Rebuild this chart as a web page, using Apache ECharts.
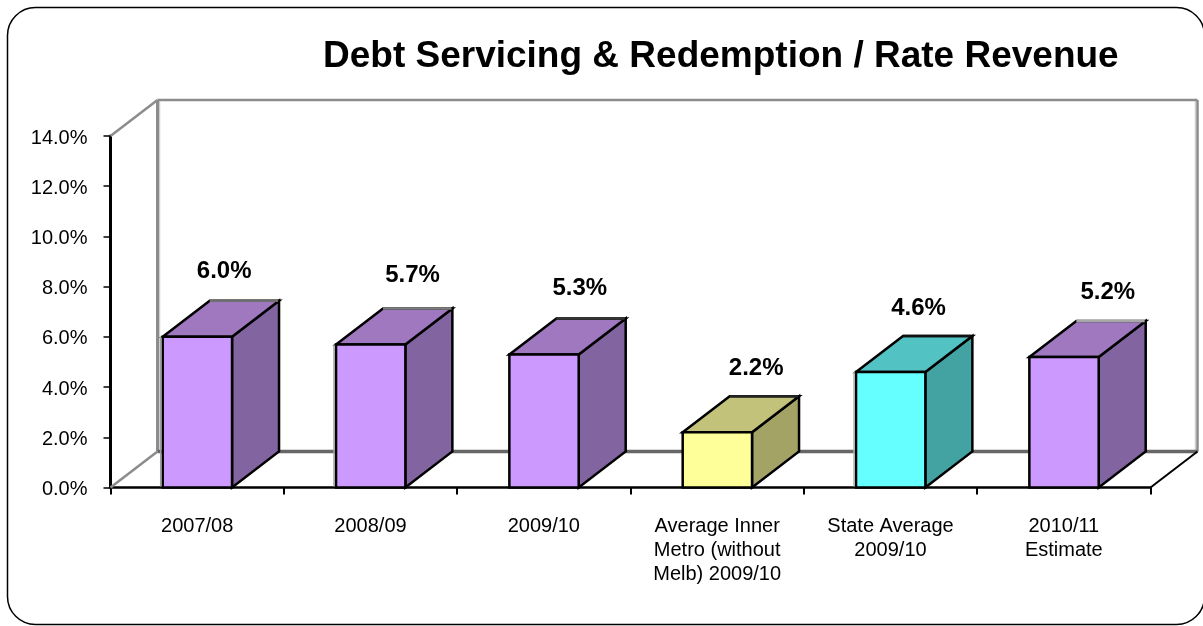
<!DOCTYPE html>
<html>
<head>
<meta charset="utf-8">
<title>Debt Servicing &amp; Redemption / Rate Revenue</title>
<script src="https://cdn.jsdelivr.net/npm/echarts@6/dist/echarts.min.js"></script>
<style>
  html, body { margin: 0; padding: 0; background: #fff; overflow: hidden; }
  #chart { width: 1203px; height: 626px; }
</style>
</head>
<body>
<div id="chart"></div>
<script>
const chartTitle = 'Debt Servicing & Redemption / Rate Revenue';
const categories = [
  '2007/08',
  '2008/09',
  '2009/10',
  'Average Inner\nMetro (without\nMelb) 2009/10',
  'State Average\n2009/10',
  '2010/11\nEstimate'
];
const debtRatio = [6.0, 5.7, 5.3, 2.2, 4.6, 5.2];

// Palette for each column: front, top and side faces.
const PURPLE = ['#CC99FF', '#9F78C0', '#8264A0'];
const YELLOW = ['#FFFF99', '#C2C27A', '#A3A366'];
const CYAN = ['#66FFFF', '#52C2C2', '#43A3A3'];
const faceColors = [PURPLE, PURPLE, PURPLE, YELLOW, CYAN, PURPLE];
// Colour of the far edge along the top of each column.
const backEdgeColors = ['#6f6f6f', '#7f7f7f', '#333333', '#222222', '#111111', '#a8a8a8'];
// Soft grey fringe down the left side of some columns; null means none.
const leftFringe = ['#a0a0a0', '#a0a0a0', null, null, '#b0b0b0', null];

// Oblique projection of the chart box, in pixels.
const DEPTH_X = 47;
const DEPTH_Y = -36;
const BAR_RATIO = 0.4;
// Where each value label sits relative to the top of its column.
const labelShift = [[27, -65], [42, -69], [36, -66], [39, -64], [28, -64], [44, -65]];

const FONT = '"Liberation Sans", Arial, sans-serif';

function renderBox(params, api) {
  const i = api.value(0);
  const top = api.coord([i, api.value(1)]);
  const base = api.coord([i, 0]);
  const w = api.size([1, 0])[0] * BAR_RATIO;
  const l = top[0] - w / 2 + 0.2;
  const r = l + w;
  const t = top[1];
  const b = base[1];
  const colors = faceColors[i];
  const edge = { stroke: '#000', lineWidth: 2.5, lineJoin: 'miter' };
  const face = (points, fill) => ({
    type: 'polygon',
    shape: { points },
    style: Object.assign({ fill }, edge)
  });
  const shift = labelShift[i];
  const children = [
    face([[r, t], [r + DEPTH_X, t + DEPTH_Y], [r + DEPTH_X, b + DEPTH_Y], [r, b]], colors[2]),
    face([[l, t], [l + DEPTH_X, t + DEPTH_Y], [r + DEPTH_X, t + DEPTH_Y], [r, t]], colors[1]),
    {
      type: 'line',
      shape: { x1: l + DEPTH_X, y1: t + DEPTH_Y, x2: r + DEPTH_X - 1, y2: t + DEPTH_Y },
      style: { stroke: backEdgeColors[i], lineWidth: 2.5 }
    },
    face([[l, t], [r, t], [r, b], [l, b]], colors[0]),
    {
      type: 'text',
      style: {
        x: top[0] + shift[0],
        y: t + shift[1],
        text: api.value(1).toFixed(1) + '%',
        font: 'bold 24px ' + FONT,
        fill: '#000',
        align: 'center',
        verticalAlign: 'middle'
      }
    }
  ];
  if (leftFringe[i]) {
    children.push({
      type: 'line',
      shape: { x1: l - 2, y1: t, x2: l - 2, y2: b - 1 },
      style: { stroke: leftFringe[i], lineWidth: 1.5 }
    });
  }
  return { type: 'group', children };
}

// Back wall and floor edges of the box behind the columns.
function renderWalls(params) {
  const c = params.coordSys;
  const x0 = c.x, x1 = c.x + c.width, y0 = c.y, y1 = c.y + c.height;
  const line = (x1a, y1a, x2a, y2a, stroke, lineWidth) => ({
    type: 'line',
    shape: { x1: x1a, y1: y1a, x2: x2a, y2: y2a },
    style: { stroke, lineWidth }
  });
  const bx0 = x0 + DEPTH_X, bx1 = x1 + DEPTH_X, by0 = y0 + DEPTH_Y, by1 = y1 + DEPTH_Y;
  return {
    type: 'group',
    children: [
      line(bx0 + 2, by0, bx0 + 2, by1, '#cfcfcf', 1.5),
      line(bx1 - 2, by0, bx1 - 2, by1, '#cfcfcf', 1.5),
      line(bx0, by0, bx1, by0, '#8c8c8c', 2.5),
      line(bx0, by0, bx0, by1, '#8c8c8c', 3),
      line(bx1, by0, bx1, by1, '#8c8c8c', 2.5),
      line(bx0, by1, bx1, by1, '#666666', 3.5),
      line(x0, y0, bx0, by0, '#8c8c8c', 2.5),
      line(x0, y1, bx0, by1, '#8c8c8c', 2.5),
      line(x1, y1, bx1, by1, '#000000', 2)
    ]
  };
}

const chart = echarts.init(document.getElementById('chart'), null, { renderer: 'canvas' });
chart.setOption({
  animation: false,
  backgroundColor: '#ffffff',
  title: {
    text: chartTitle,
    left: 323,
    top: 38,
    padding: 0,
    textStyle: { fontFamily: FONT, fontWeight: 'bold', fontSize: 37, color: '#000' }
  },
  graphic: {
    elements: [{
      type: 'rect',
      z: -10,
      shape: { x: 7.5, y: 7.5, width: 1197, height: 617, r: 28 },
      style: { fill: '#ffffff', stroke: '#000', lineWidth: 1.5 }
    }]
  },
  grid: { left: 110.5, top: 136, width: 1040, height: 351.5, containLabel: false },
  xAxis: {
    type: 'category',
    data: categories,
    boundaryGap: true,
    axisLine: { show: true, lineStyle: { color: '#000', width: 2.5 } },
    axisTick: { show: true, length: 7, lineStyle: { color: '#000', width: 2 } },
    axisLabel: {
      interval: 0,
      margin: 27,
      color: '#000',
      fontFamily: FONT,
      fontSize: 20,
      lineHeight: 24,
      verticalAlign: 'top'
    }
  },
  yAxis: {
    type: 'value',
    min: 0,
    max: 14,
    interval: 2,
    splitLine: { show: false },
    axisLine: { show: true, lineStyle: { color: '#000', width: 3 } },
    axisTick: { show: true, length: 7, lineStyle: { color: '#000', width: 1.5 } },
    axisLabel: {
      margin: 23,
      color: '#000',
      fontFamily: FONT,
      fontSize: 20,
      // A short line box hung from the tick drops the text slightly below centre.
      verticalAlign: 'top',
      lineHeight: 4,
      formatter: v => v.toFixed(1) + '%'
    }
  },
  tooltip: { show: false },
  series: [
    {
      type: 'custom',
      name: 'walls',
      z: 1,
      clip: false,
      silent: true,
      renderItem: renderWalls,
      data: [0]
    },
    {
      type: 'custom',
      name: 'Debt Servicing & Redemption / Rate Revenue',
      z: 3,
      clip: false,
      renderItem: renderBox,
      encode: { x: 0, y: 1 },
      data: debtRatio.map((v, i) => [i, v])
    }
  ]
});
</script>
</body>
</html>
